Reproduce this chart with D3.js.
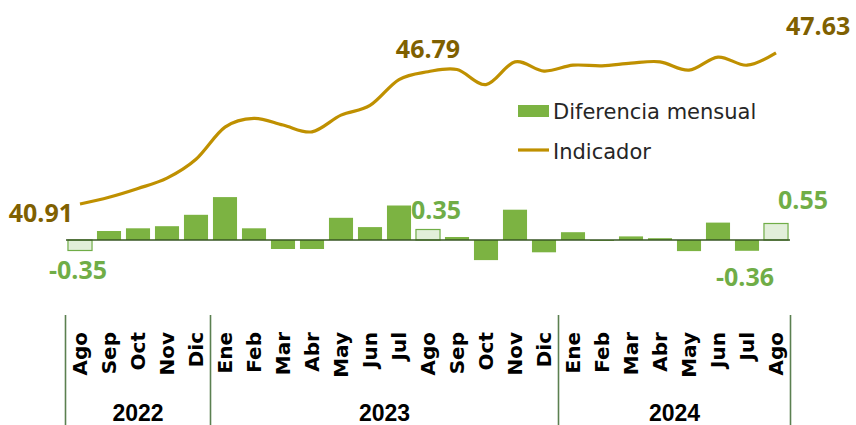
<!DOCTYPE html>
<html lang="es">
<head>
<meta charset="UTF-8">
<title>Indicador</title>
<style>
body{margin:0;background:#fff}
</style>
</head>
<body>
<script src="https://cdn.jsdelivr.net/npm/d3@7"></script>
<script>
var months=['Ago','Sep','Oct','Nov','Dic','Ene','Feb','Mar','Abr','May','Jun','Jul','Ago','Sep','Oct','Nov','Dic','Ene','Feb','Mar','Abr','May','Jun','Jul','Ago']
var years=[{label:'2022',n:5},{label:'2023',n:12},{label:'2024',n:8}]
var diferencia=[-0.35,0.30,0.39,0.46,0.84,1.43,0.39,-0.30,-0.30,0.74,0.43,1.15,0.35,0.10,-0.67,1.01,-0.41,0.26,-0.03,0.12,0.06,-0.37,0.58,-0.36,0.55]
var indicador=[40.91,41.21,41.60,42.06,42.90,44.33,44.72,44.42,44.12,44.86,45.29,46.44,46.79,46.89,46.22,47.23,46.82,47.08,47.05,47.17,47.23,46.86,47.44,47.08,47.63]
var highlight=[0,12,24]

var width=856,height=425
var svg=d3.select('body').append('svg').attr('width',width).attr('height',height)

var x=d3.scaleBand().domain(d3.range(months.length)).range([65.5,790.5]).paddingInner(0.17).paddingOuter(0.085)
var yBar=d3.scaleLinear().domain([-1,1.5]).range([270,195])
var yLine=d3.scaleLinear().domain([40,48]).range([224.5,44.5])
var cx=function(i){return x(i)+x.bandwidth()/2}

// bars
svg.selectAll('rect.bar').data(diferencia).enter().append('rect')
    .attr('class','bar')
    .attr('x',(d,i)=>x(i))
    .attr('width',x.bandwidth())
    .attr('y',d=>yBar(Math.max(0,d)))
    .attr('height',d=>Math.abs(yBar(d)-yBar(0)))
    .attr('fill',(d,i)=>highlight.indexOf(i)>=0?'#E2EFDA':'#7CB342')
    .attr('stroke',(d,i)=>highlight.indexOf(i)>=0?'#70AD47':'none')
    .attr('stroke-width',1.2)

// zero line
svg.append('line').attr('x1',66).attr('x2',790).attr('y1',yBar(0)).attr('y2',yBar(0))
    .attr('stroke','#375623').attr('stroke-width',1.6)

// indicator line
var line=d3.line().x((d,i)=>cx(i)).y(d=>yLine(d)).curve(d3.curveCatmullRom.alpha(0))
svg.append('path').datum(indicador).attr('d',line)
    .attr('fill','none').attr('stroke','#BF9000').attr('stroke-width',3.2)

// line labels
var lineLabels=[{i:0,dx:-7,dy:18,anchor:'end'},{i:12,dx:0,dy:-14,anchor:'middle'},{i:24,dx:10,dy:-18,anchor:'start'}]
svg.selectAll('text.ll').data(lineLabels).enter().append('text')
    .attr('x',d=>cx(d.i)+d.dx).attr('y',d=>yLine(indicador[d.i])+d.dy)
    .attr('text-anchor',d=>d.anchor)
    .attr('font-family','Open Sans').attr('font-weight',700).attr('font-size',25)
    .attr('fill','#7F6000')
    .text(d=>indicador[d.i].toFixed(2))

// bar labels
var barLabels=[{i:0,dx:-2,dy:28},{i:12,dx:8,dy:-11},{i:23,dx:-2,dy:35},{i:24,dx:27,dy:-15}]
svg.selectAll('text.bl').data(barLabels).enter().append('text')
    .attr('x',d=>cx(d.i)+d.dx).attr('y',d=>yBar(diferencia[d.i])+d.dy)
    .attr('text-anchor','middle')
    .attr('font-family','Open Sans').attr('font-weight',700).attr('font-size',25)
    .attr('fill','#70AD47')
    .text(d=>diferencia[d.i].toFixed(2))

// legend
svg.append('rect').attr('x',518).attr('y',105).attr('width',31).attr('height',12).attr('fill','#7CB342')
svg.append('text').attr('x',553).attr('y',118.5).attr('font-family','DejaVu Sans').attr('font-size',21)
    .attr('fill','#262626').text('Diferencia mensual')
svg.append('line').attr('x1',518).attr('x2',549).attr('y1',150).attr('y2',150).attr('stroke','#BF9000').attr('stroke-width',3.2)
svg.append('text').attr('x',553).attr('y',158.5).attr('font-family','DejaVu Sans').attr('font-size',21)
    .attr('fill','#262626').text('Indicador')

// month labels
svg.selectAll('text.month').data(months).enter().append('text')
    .attr('transform',(d,i)=>'translate('+cx(i)+',332) rotate(-90)')
    .attr('dy','0.36em')
    .attr('text-anchor','end')
    .attr('font-family','DejaVu Sans').attr('font-weight',700).attr('font-size',20)
    .attr('fill','#000')
    .text(d=>d)

// year groups and separators
var start=0,bounds=[x.range()[0]]
years.forEach(function(y){
    var x0=x(start)-x.step()*x.paddingInner()/2
    var x1=x(start+y.n-1)+x.bandwidth()+x.step()*x.paddingInner()/2
    y.mid=(x0+x1)/2
    bounds.push(x1)
    start+=y.n
})
svg.selectAll('line.sep').data(bounds).enter().append('line')
    .attr('x1',d=>d).attr('x2',d=>d).attr('y1',315).attr('y2',425)
    .attr('stroke','#5B8050').attr('stroke-width',1.6)
svg.selectAll('text.year').data(years).enter().append('text')
    .attr('x',d=>d.mid).attr('y',421)
    .attr('text-anchor','middle')
    .attr('font-family','Liberation Sans').attr('font-weight',700).attr('font-size',23)
    .attr('fill','#000')
    .text(d=>d.label)
</script>
</body>
</html>
